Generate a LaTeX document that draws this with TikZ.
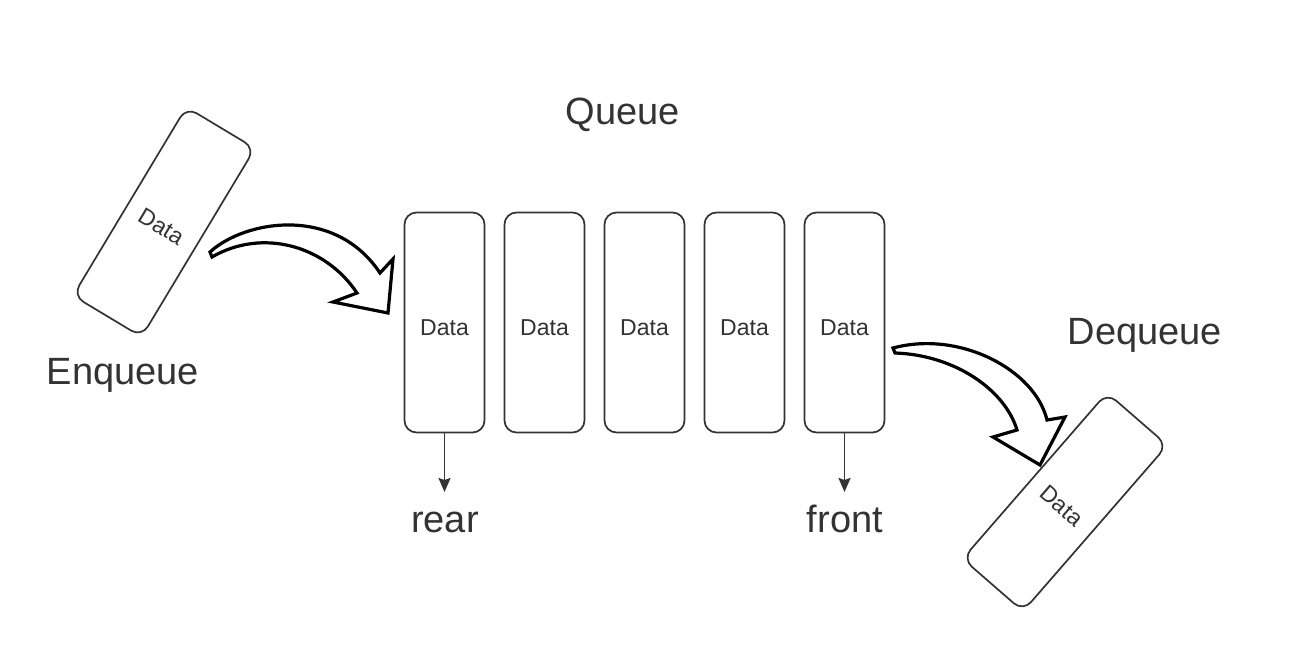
\documentclass[tikz,border=0pt]{standalone}
\usepackage{fontspec}
\setmainfont{Liberation Sans}
\usetikzlibrary{arrows.meta}
\definecolor{ink}{HTML}{333333}
\tikzset{
  databox/.style={draw=ink, line width=1.7pt, rounded corners=12pt, minimum width=80pt, minimum height=220pt, inner sep=0pt, text=ink, font=\fontsize{23}{27}\selectfont, text height=26pt, text depth=0pt},
  biglabel/.style={text=ink, font=\fontsize{38}{44}\selectfont, anchor=base, inner sep=0pt},
  ptr/.style={draw=ink, line width=1.8pt, -{Stealth[width=12pt,length=14pt,inset=2pt]}},
  blockarrow/.style={draw=black, fill=white, line width=3.2pt, line join=miter}
}
\begin{document}
\begin{tikzpicture}[x=1pt,y=-1pt]
\useasboundingbox (0,0) rectangle (1298,652);
% queue boxes
\foreach \i/\x in {1/444.5,2/544.5,3/644.5,4/744.5,5/844.5}{
  \node[databox] (b\i) at (\x,322.5) {Data};
}
% labels
\node[biglabel] (queue) at (623,125) {Queue};
\node[biglabel] (enq) at (123,384) {Enqueue};
\node[biglabel] (deq) at (1145,344) {Dequeue};
\node[biglabel] (rear) at (445,532) {rear};
\node[biglabel] (front) at (845,532) {front};
% pointers
\coordinate (rt) at (444.5,492);
\coordinate (ft) at (844.5,492);
\draw[ptr] (b1.south) -- (rt);
\draw[ptr] (b5.south) -- (ft);
% rotated data boxes
\node[databox, rotate=-31] (inbox) at (164,222) {Data};
\node[databox, rotate=-41] (outbox) at (1065,502) {Data};
% enqueue block arrow
\draw[blockarrow] (210,252) .. controls (245,220) and (335,205) .. (380,273)
  -- (393,259) -- (388,313) -- (333,302) -- (357,293)
  .. controls (325,245) and (262,228) .. (212,257) -- cycle;
% dequeue block arrow
\draw[blockarrow] (893,348) .. controls (960,330) and (1035,370) .. (1047,420)
  -- (1065,417) -- (1040,465) -- (993,437) -- (1017,430)
  .. controls (1005,390) and (955,355) .. (895,353) -- cycle;
\end{tikzpicture}
\end{document}
